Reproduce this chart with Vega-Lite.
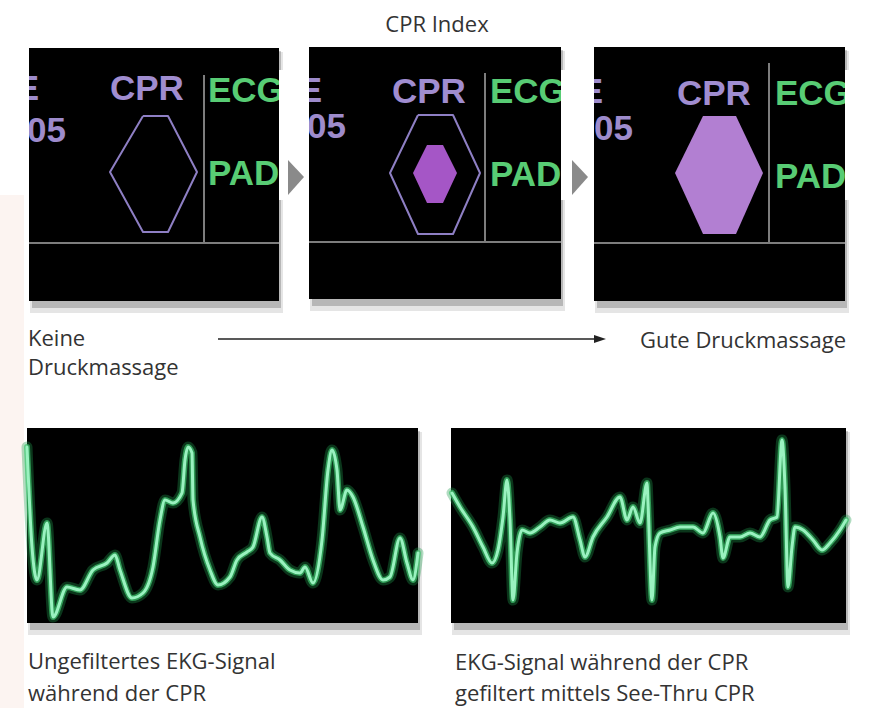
{
  "$schema": "https://vega.github.io/schema/vega-lite/v6.json",
  "width": 878,
  "height": 708,
  "padding": 0,
  "autosize": {"type": "fit", "contains": "padding"},
  "background": "#ffffff",
  "config": {"view": {"stroke": null}},
  "datasets": {
    "strip": [{"x": 0, "x2": 24, "y": 195, "y2": 708}],
    "panels": [
      {"p": "m1", "x": 29, "x2": 279, "y": 48, "y2": 301},
      {"p": "m2", "x": 309, "x2": 561, "y": 47, "y2": 299},
      {"p": "m3", "x": 594, "x2": 845, "y": 47, "y2": 301},
      {"p": "e1", "x": 27, "x2": 418, "y": 428, "y2": 623},
      {"p": "e2", "x": 451, "x2": 846, "y": 428, "y2": 623}
    ],
    "covers": [
      {"x": 0, "x2": 29, "y": 70, "y2": 150},
      {"x": 279, "x2": 287, "y": 70, "y2": 200},
      {"x": 290, "x2": 309, "y": 70, "y2": 150},
      {"x": 561, "x2": 571, "y": 70, "y2": 200},
      {"x": 575, "x2": 594, "y": 70, "y2": 150},
      {"x": 845, "x2": 878, "y": 70, "y2": 200}
    ],
    "grid": [
      {"x": 204, "x2": 204, "y": 75, "y2": 243},
      {"x": 29, "x2": 279, "y": 243, "y2": 243},
      {"x": 485, "x2": 485, "y": 73, "y2": 242},
      {"x": 309, "x2": 561, "y": 242, "y2": 242},
      {"x": 769, "x2": 769, "y": 63, "y2": 243},
      {"x": 594, "x2": 845, "y": 243, "y2": 243}
    ],
    "arrowline": [{"x": 218, "x2": 598, "y": 339, "y2": 339}],
    "polys": [
      {"shape": "a1", "kind": "arrow", "x": 288, "y": 160, "y2": 195},
      {"shape": "a1", "kind": "arrow", "x": 304, "y": 177, "y2": 177},
      {"shape": "a2", "kind": "arrow", "x": 572, "y": 160, "y2": 195},
      {"shape": "a2", "kind": "arrow", "x": 588, "y": 177, "y2": 177},
      {"shape": "a3", "kind": "head", "x": 594, "y": 335, "y2": 343},
      {"shape": "a3", "kind": "head", "x": 606, "y": 339, "y2": 339},
      {"shape": "h2", "kind": "hexSmall", "x": 413, "y": 173, "y2": 173},
      {"shape": "h2", "kind": "hexSmall", "x": 427, "y": 145, "y2": 203},
      {"shape": "h2", "kind": "hexSmall", "x": 443, "y": 145, "y2": 203},
      {"shape": "h2", "kind": "hexSmall", "x": 457, "y": 173, "y2": 173},
      {"shape": "h3", "kind": "hexBig", "x": 675, "y": 173, "y2": 173},
      {"shape": "h3", "kind": "hexBig", "x": 703, "y": 116, "y2": 234},
      {"shape": "h3", "kind": "hexBig", "x": 736, "y": 116, "y2": 234},
      {"shape": "h3", "kind": "hexBig", "x": 763, "y": 173, "y2": 173}
    ],
    "outlines": [
      {"shape": "o1", "order": 1, "x": 143, "y": 116},
      {"shape": "o1", "order": 2, "x": 168, "y": 116},
      {"shape": "o1", "order": 3, "x": 197, "y": 172},
      {"shape": "o1", "order": 4, "x": 168, "y": 232},
      {"shape": "o1", "order": 5, "x": 143, "y": 232},
      {"shape": "o1", "order": 6, "x": 110, "y": 172},
      {"shape": "o1", "order": 7, "x": 143, "y": 116},
      {"shape": "o2", "order": 1, "x": 418, "y": 115},
      {"shape": "o2", "order": 2, "x": 453, "y": 115},
      {"shape": "o2", "order": 3, "x": 480, "y": 173},
      {"shape": "o2", "order": 4, "x": 453, "y": 234},
      {"shape": "o2", "order": 5, "x": 418, "y": 234},
      {"shape": "o2", "order": 6, "x": 390, "y": 173},
      {"shape": "o2", "order": 7, "x": 418, "y": 115}
    ],
    "mtext": [
      {"text": "E", "kind": "pr", "x": 39, "y": 100},
      {"text": "05", "kind": "pr", "x": 66, "y": 142},
      {"text": "CPR", "kind": "pl", "x": 110, "y": 100},
      {"text": "ECG", "kind": "g", "x": 208, "y": 102},
      {"text": "PAD", "kind": "g", "x": 208, "y": 185},
      {"text": "E", "kind": "pr", "x": 322, "y": 102},
      {"text": "05", "kind": "pr", "x": 346, "y": 138},
      {"text": "CPR", "kind": "pl", "x": 392, "y": 103},
      {"text": "ECG", "kind": "g", "x": 490, "y": 103},
      {"text": "PAD", "kind": "g", "x": 490, "y": 186},
      {"text": "E", "kind": "pr", "x": 603, "y": 103},
      {"text": "05", "kind": "pr", "x": 633, "y": 140},
      {"text": "CPR", "kind": "pl", "x": 677, "y": 105},
      {"text": "ECG", "kind": "g", "x": 775, "y": 105},
      {"text": "PAD", "kind": "g", "x": 775, "y": 188}
    ],
    "title": [{"text": "CPR Index", "x": 437, "y": 32}],
    "captions": [
      {"text": "Keine", "x": 28, "y": 346},
      {"text": "Druckmassage", "x": 28, "y": 375},
      {"text": "Gute Druckmassage", "x": 640, "y": 348},
      {"text": "Ungefiltertes EKG-Signal", "x": 28, "y": 669},
      {"text": "während der CPR", "x": 28, "y": 701},
      {"text": "EKG-Signal während der CPR", "x": 455, "y": 670},
      {"text": "gefiltert mittels See-Thru CPR", "x": 455, "y": 701}
    ],
    "ecg": [
      {"trace": "raw", "x": 27, "y": 447}, {"trace": "raw", "x": 32, "y": 547}, {"trace": "raw", "x": 37, "y": 580},
      {"trace": "raw", "x": 47, "y": 523}, {"trace": "raw", "x": 53, "y": 617}, {"trace": "raw", "x": 67, "y": 587},
      {"trace": "raw", "x": 80, "y": 590}, {"trace": "raw", "x": 93, "y": 570}, {"trace": "raw", "x": 107, "y": 563},
      {"trace": "raw", "x": 115, "y": 555}, {"trace": "raw", "x": 120, "y": 570}, {"trace": "raw", "x": 132, "y": 598},
      {"trace": "raw", "x": 143, "y": 593}, {"trace": "raw", "x": 153, "y": 567}, {"trace": "raw", "x": 160, "y": 520},
      {"trace": "raw", "x": 165, "y": 500}, {"trace": "raw", "x": 173, "y": 503}, {"trace": "raw", "x": 182, "y": 493},
      {"trace": "raw", "x": 185, "y": 460}, {"trace": "raw", "x": 188, "y": 447}, {"trace": "raw", "x": 192, "y": 453},
      {"trace": "raw", "x": 193, "y": 500}, {"trace": "raw", "x": 200, "y": 537}, {"trace": "raw", "x": 210, "y": 570},
      {"trace": "raw", "x": 218, "y": 585}, {"trace": "raw", "x": 230, "y": 577}, {"trace": "raw", "x": 237, "y": 560},
      {"trace": "raw", "x": 247, "y": 552}, {"trace": "raw", "x": 253, "y": 547}, {"trace": "raw", "x": 262, "y": 517},
      {"trace": "raw", "x": 267, "y": 537}, {"trace": "raw", "x": 270, "y": 553}, {"trace": "raw", "x": 280, "y": 560},
      {"trace": "raw", "x": 290, "y": 570}, {"trace": "raw", "x": 300, "y": 573}, {"trace": "raw", "x": 305, "y": 567},
      {"trace": "raw", "x": 313, "y": 583}, {"trace": "raw", "x": 322, "y": 540}, {"trace": "raw", "x": 328, "y": 470},
      {"trace": "raw", "x": 332, "y": 450}, {"trace": "raw", "x": 337, "y": 470}, {"trace": "raw", "x": 340, "y": 510},
      {"trace": "raw", "x": 347, "y": 490}, {"trace": "raw", "x": 353, "y": 497}, {"trace": "raw", "x": 363, "y": 527},
      {"trace": "raw", "x": 373, "y": 560}, {"trace": "raw", "x": 383, "y": 580}, {"trace": "raw", "x": 390, "y": 577},
      {"trace": "raw", "x": 400, "y": 538}, {"trace": "raw", "x": 407, "y": 563}, {"trace": "raw", "x": 413, "y": 580},
      {"trace": "raw", "x": 418, "y": 553},
      {"trace": "filt", "x": 452, "y": 493}, {"trace": "filt", "x": 460, "y": 507}, {"trace": "filt", "x": 473, "y": 527},
      {"trace": "filt", "x": 483, "y": 547}, {"trace": "filt", "x": 492, "y": 563}, {"trace": "filt", "x": 498, "y": 550},
      {"trace": "filt", "x": 503, "y": 517}, {"trace": "filt", "x": 507, "y": 480}, {"trace": "filt", "x": 510, "y": 520},
      {"trace": "filt", "x": 513, "y": 600}, {"trace": "filt", "x": 517, "y": 553}, {"trace": "filt", "x": 522, "y": 530},
      {"trace": "filt", "x": 530, "y": 533}, {"trace": "filt", "x": 540, "y": 527}, {"trace": "filt", "x": 550, "y": 520},
      {"trace": "filt", "x": 560, "y": 523}, {"trace": "filt", "x": 573, "y": 517}, {"trace": "filt", "x": 580, "y": 540},
      {"trace": "filt", "x": 585, "y": 557}, {"trace": "filt", "x": 593, "y": 537}, {"trace": "filt", "x": 607, "y": 517},
      {"trace": "filt", "x": 620, "y": 497}, {"trace": "filt", "x": 627, "y": 520}, {"trace": "filt", "x": 633, "y": 507},
      {"trace": "filt", "x": 640, "y": 523}, {"trace": "filt", "x": 647, "y": 483}, {"trace": "filt", "x": 648, "y": 503},
      {"trace": "filt", "x": 652, "y": 600}, {"trace": "filt", "x": 655, "y": 547}, {"trace": "filt", "x": 660, "y": 533},
      {"trace": "filt", "x": 670, "y": 530}, {"trace": "filt", "x": 680, "y": 527}, {"trace": "filt", "x": 693, "y": 527},
      {"trace": "filt", "x": 703, "y": 533}, {"trace": "filt", "x": 713, "y": 513}, {"trace": "filt", "x": 720, "y": 537},
      {"trace": "filt", "x": 723, "y": 558}, {"trace": "filt", "x": 730, "y": 537}, {"trace": "filt", "x": 740, "y": 537},
      {"trace": "filt", "x": 750, "y": 533}, {"trace": "filt", "x": 760, "y": 537}, {"trace": "filt", "x": 770, "y": 520},
      {"trace": "filt", "x": 777, "y": 517}, {"trace": "filt", "x": 782, "y": 440}, {"trace": "filt", "x": 785, "y": 487},
      {"trace": "filt", "x": 788, "y": 587}, {"trace": "filt", "x": 792, "y": 547}, {"trace": "filt", "x": 795, "y": 527},
      {"trace": "filt", "x": 803, "y": 530}, {"trace": "filt", "x": 813, "y": 540}, {"trace": "filt", "x": 822, "y": 550},
      {"trace": "filt", "x": 830, "y": 543}, {"trace": "filt", "x": 840, "y": 530}, {"trace": "filt", "x": 846, "y": 520}
    ]
  },
  "encoding": {
    "x": {"field": "x", "type": "quantitative", "scale": {"domain": [0, 878], "nice": false, "zero": false}, "axis": null},
    "y": {"field": "y", "type": "quantitative", "scale": {"domain": [0, 708], "reverse": true, "nice": false, "zero": false}, "axis": null}
  },
  "layer": [
    {
      "data": {"name": "strip"},
      "mark": {"type": "rect", "fill": "#fcf4f1"},
      "encoding": {"x2": {"field": "x2"}, "y2": {"field": "y2"}}
    },
    {
      "data": {"name": "panels"},
      "mark": {"type": "rect", "fill": "#000000", "opacity": 0.1, "xOffset": 1, "x2Offset": 4, "yOffset": 4, "y2Offset": 12},
      "encoding": {"x2": {"field": "x2"}, "y2": {"field": "y2"}}
    },
    {
      "data": {"name": "panels"},
      "mark": {"type": "rect", "fill": "#000000", "opacity": 0.2, "xOffset": 3, "x2Offset": 2, "yOffset": 3, "y2Offset": 7},
      "encoding": {"x2": {"field": "x2"}, "y2": {"field": "y2"}}
    },
    {
      "data": {"name": "panels"},
      "mark": {"type": "rect", "fill": "#000000"},
      "encoding": {"x2": {"field": "x2"}, "y2": {"field": "y2"}}
    },
    {
      "data": {"name": "grid"},
      "mark": {"type": "rule", "stroke": "#7d7d7d", "strokeWidth": 2},
      "encoding": {"x2": {"field": "x2"}, "y2": {"field": "y2"}}
    },
    {
      "data": {"name": "outlines"},
      "mark": {"type": "line", "stroke": "#8e7fc4", "strokeWidth": 2, "strokeJoin": "round"},
      "encoding": {"detail": {"field": "shape"}, "order": {"field": "order", "type": "quantitative"}}
    },
    {
      "data": {"name": "polys"},
      "transform": [{"filter": "datum.kind === 'arrow'"}],
      "mark": {"type": "area", "fill": "#8a8a8a"},
      "encoding": {"y2": {"field": "y2"}, "detail": {"field": "shape"}}
    },
    {
      "data": {"name": "polys"},
      "transform": [{"filter": "datum.kind === 'head'"}],
      "mark": {"type": "area", "fill": "#222222"},
      "encoding": {"y2": {"field": "y2"}, "detail": {"field": "shape"}}
    },
    {
      "data": {"name": "polys"},
      "transform": [{"filter": "datum.kind === 'hexSmall'"}],
      "mark": {"type": "area", "fill": "#a556c6"},
      "encoding": {"y2": {"field": "y2"}, "detail": {"field": "shape"}}
    },
    {
      "data": {"name": "polys"},
      "transform": [{"filter": "datum.kind === 'hexBig'"}],
      "mark": {"type": "area", "fill": "#b27fd2"},
      "encoding": {"y2": {"field": "y2"}, "detail": {"field": "shape"}}
    },
    {
      "data": {"name": "ecg"},
      "mark": {"type": "line", "stroke": "#1f9a4e", "strokeWidth": 11, "opacity": 0.35, "interpolate": "monotone", "strokeJoin": "round", "strokeCap": "round"},
      "encoding": {"detail": {"field": "trace"}}
    },
    {
      "data": {"name": "ecg"},
      "mark": {"type": "line", "stroke": "#3ec46e", "strokeWidth": 6, "opacity": 0.7, "interpolate": "monotone", "strokeJoin": "round", "strokeCap": "round"},
      "encoding": {"detail": {"field": "trace"}}
    },
    {
      "data": {"name": "ecg"},
      "mark": {"type": "line", "stroke": "#9af2c0", "strokeWidth": 3, "interpolate": "monotone", "strokeJoin": "round", "strokeCap": "round"},
      "encoding": {"detail": {"field": "trace"}}
    },
    {
      "data": {"name": "mtext"},
      "transform": [{"filter": "datum.kind === 'pr'"}],
      "mark": {"type": "text", "align": "right", "baseline": "alphabetic", "font": "Liberation Sans", "fontWeight": "bold", "fontSize": 35, "fill": "#9d8bcc"},
      "encoding": {"text": {"field": "text"}}
    },
    {
      "data": {"name": "mtext"},
      "transform": [{"filter": "datum.kind === 'pl'"}],
      "mark": {"type": "text", "align": "left", "baseline": "alphabetic", "font": "Liberation Sans", "fontWeight": "bold", "fontSize": 35, "fill": "#a08dd0"},
      "encoding": {"text": {"field": "text"}}
    },
    {
      "data": {"name": "mtext"},
      "transform": [{"filter": "datum.kind === 'g'"}],
      "mark": {"type": "text", "align": "left", "baseline": "alphabetic", "font": "Liberation Sans", "fontWeight": "bold", "fontSize": 35, "fill": "#58cc74"},
      "encoding": {"text": {"field": "text"}}
    },
    {
      "data": {"name": "covers"},
      "mark": {"type": "rect", "fill": "#ffffff"},
      "encoding": {"x2": {"field": "x2"}, "y2": {"field": "y2"}}
    },
    {
      "data": {"name": "arrowline"},
      "mark": {"type": "rule", "stroke": "#222222", "strokeWidth": 1.5},
      "encoding": {"x2": {"field": "x2"}, "y2": {"field": "y2"}}
    },
    {
      "data": {"name": "title"},
      "mark": {"type": "text", "align": "center", "baseline": "alphabetic", "font": "Open Sans", "fontSize": 22, "fill": "#333333"},
      "encoding": {"text": {"field": "text"}}
    },
    {
      "data": {"name": "captions"},
      "mark": {"type": "text", "align": "left", "baseline": "alphabetic", "font": "Open Sans", "fontSize": 22, "fill": "#333333"},
      "encoding": {"text": {"field": "text"}}
    }
  ]
}
